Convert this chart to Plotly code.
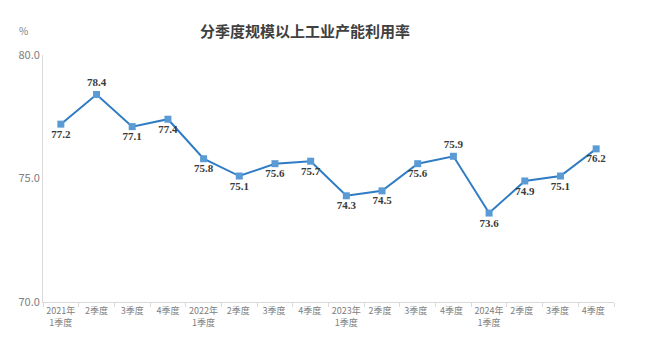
import plotly.graph_objects as go

# Quarterly industrial capacity utilization (%)
quarters = [
    "2021年<br>1季度", "2季度", "3季度", "4季度",
    "2022年<br>1季度", "2季度 ", "3季度 ", "4季度 ",
    "2023年<br>1季度", "2季度  ", "3季度  ", "4季度  ",
    "2024年<br>1季度", "2季度   ", "3季度   ", "4季度   ",
]
utilization = [77.2, 78.4, 77.1, 77.4, 75.8, 75.1, 75.6, 75.7,
               74.3, 74.5, 75.6, 75.9, 73.6, 74.9, 75.1, 76.2]
label_side = ["bottom center", "top center", "bottom center", "bottom center",
              "bottom center", "bottom center", "bottom center", "bottom center",
              "bottom center", "bottom center", "bottom center", "top center",
              "bottom center", "bottom center", "bottom center", "bottom center"]
y_ticks = [70, 75, 80]

fig = go.Figure(go.Scatter(
    x=quarters,
    y=utilization,
    mode="lines+markers+text",
    line=dict(color="#2f7cc4", width=2),
    marker=dict(symbol="square", size=7, color="#5b9bd5"),
    text=[f"<b>{v:.1f}</b>" for v in utilization],
    textposition=label_side,
    textfont=dict(family="Liberation Serif", size=11, color="#3a3a3a"),
    cliponaxis=False,
    hoverinfo="skip",
))

fig.update_layout(
    width=660, height=346,
    margin=dict(l=43, r=46, t=55, b=44),
    paper_bgcolor="white", plot_bgcolor="white",
    showlegend=False,
    title=dict(text="<b>分季度规模以上工业产能利用率</b>",
               x=0.462, xanchor="center", y=0.908, yanchor="middle",
               font=dict(family="Noto Sans CJK SC", size=15, color="#404040")),
    font=dict(family="Noto Sans CJK SC", color="#808080"),
    xaxis=dict(
        type="category", tickson="boundaries", ticks="outside", ticklen=4,
        tickcolor="#d9d9d9", showline=True, linecolor="#d9d9d9", linewidth=1,
        showgrid=False, tickfont=dict(size=9, color="#808080"),
        tickangle=0, automargin=False,
        range=[-0.5, len(quarters) - 0.5],
    ),
    yaxis=dict(
        range=[70, 80], tickvals=y_ticks, ticktext=[f"{v:.1f}" for v in y_ticks],
        showline=True, linecolor="#d9d9d9", linewidth=1, showgrid=False,
        zeroline=False, ticks="", automargin=False,
        tickfont=dict(size=11, color="#808080"),
    ),
    annotations=[dict(text="%", xref="paper", yref="paper", x=-0.035, y=1.06,
                      xanchor="center", yanchor="bottom", showarrow=False,
                      font=dict(size=10, color="#808080"))],
)

fig.write_html("out.html")
